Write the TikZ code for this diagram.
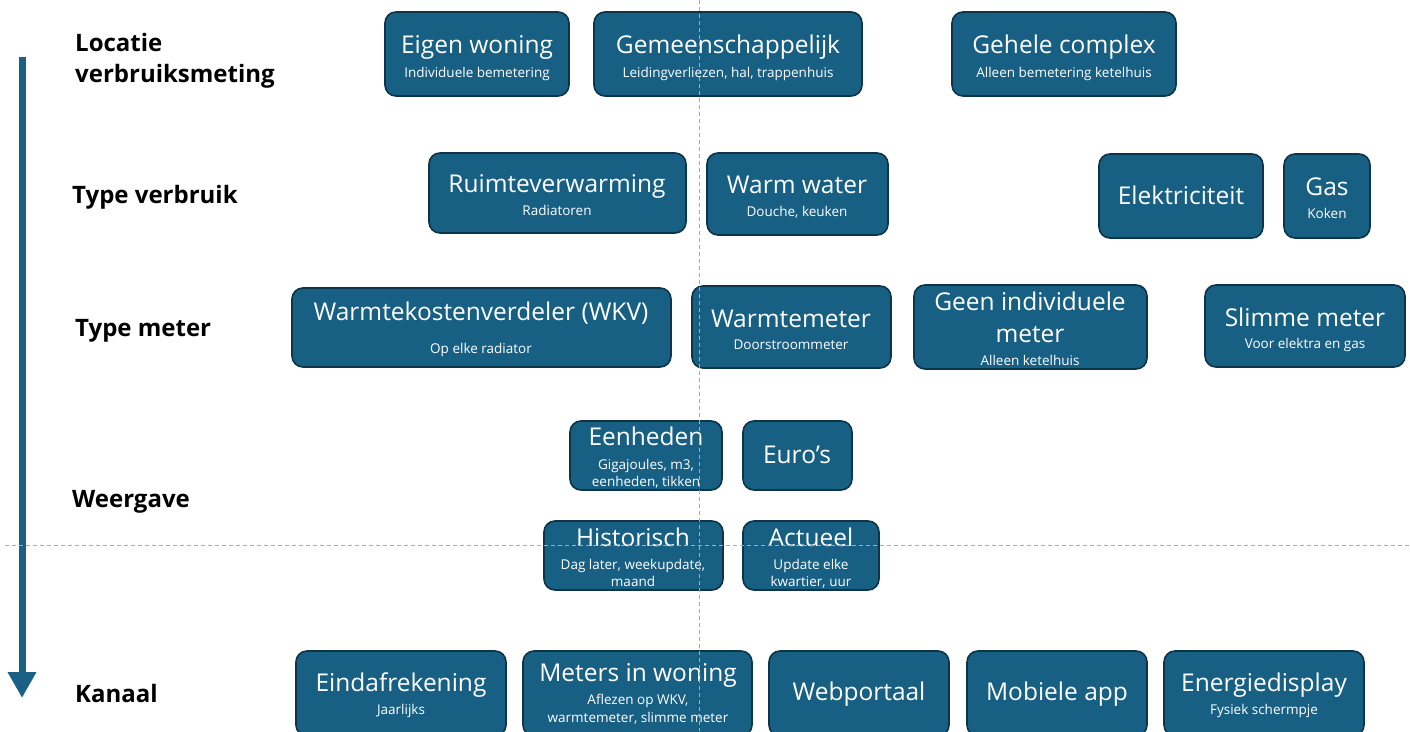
\documentclass[tikz,border=0pt]{standalone}
\usepackage{fontspec}
\setmainfont{Open Sans}
\usetikzlibrary{fit,arrows.meta}
\definecolor{boxfill}{RGB}{23,95,131}
\definecolor{boxline}{RGB}{14,52,72}
\definecolor{arrowc}{RGB}{26,97,133}
\definecolor{guide}{RGB}{170,170,170}
\begin{document}
\begin{tikzpicture}[x=1pt,y=-1pt,
  box/.style={draw=boxline, line width=1.6pt, fill=boxfill, rounded corners=11pt, inner sep=0pt},
  ttl/.style={text=white, anchor=mid, inner sep=0pt, yshift=-6pt, font=\fontsize{24.5}{28}\selectfont},
  sub/.style={text=white, anchor=mid, inner sep=0pt, yshift=-3pt, font=\fontsize{13.5}{16}\selectfont},
  lbl/.style={text=black, anchor=mid west, inner sep=0pt, yshift=-6pt, font=\bfseries\fontsize{24}{30}\selectfont},
  guideline/.style={draw=guide, line width=0.9pt, dash pattern=on 4pt off 3pt}]
\useasboundingbox (0,0) rectangle (1410,731);
\fill[white] (0,0) rectangle (1410,731);

% axis arrow
\coordinate (atop) at (22,57);
\coordinate (abot) at (22,698);
\draw[arrowc, line width=7pt, -{Triangle[width=27pt,length=26pt]}] (atop) -- (abot);

% row labels
\node[lbl] (l1a) at (75,43) {Locatie};
\node[lbl] (l1b) at (75,74) {verbruiksmeting};
\node[lbl] (l2) at (72,195) {Type verbruik};
\node[lbl] (l3) at (75,328) {Type meter};
\node[lbl] (l4) at (72,499) {Weergave};
\node[lbl] (l5) at (75,694) {Kanaal};

% row 1
\node[box, fit={(385,12) (569,96)}] (ew) {};
\node[ttl] (ew-t) at (477,45) {Eigen woning};
\node[sub] (ew-s) at (477,72) {Individuele bemetering};
\node[box, fit={(594,12) (862,96)}] (gm) {};
\node[ttl] (gm-t) at (728,45) {Gemeenschappelijk};
\node[sub] (gm-s) at (728,72) {Leidingverliezen, hal, trappenhuis};
\node[box, fit={(952,12) (1176,96)}] (gc) {};
\node[ttl] (gc-t) at (1064,45) {Gehele complex};
\node[sub] (gc-s) at (1064,72) {Alleen bemetering ketelhuis};

% row 2
\node[box, fit={(429,153) (686,233)}] (rv) {};
\node[ttl] (rv-t) at (557,184) {Ruimteverwarming};
\node[sub] (rv-s) at (557,210) {Radiatoren};
\node[box, fit={(707,153) (888,235)}] (ww) {};
\node[ttl] (ww-t) at (797,185) {Warm water};
\node[sub] (ww-s) at (797,211) {Douche, keuken};
\node[box, fit={(1099,154) (1263,238)}] (el) {};
\node[ttl] (el-t) at (1181,196) {Elektriciteit};
\node[box, fit={(1284,154) (1370,238)}] (gas) {};
\node[ttl] (gas-t) at (1327,187) {Gas};
\node[sub] (gas-s) at (1327,213) {Koken};

% row 3
\node[box, fit={(292,288) (671,367)}] (wkv) {};
\node[ttl] (wkv-t) at (481,312) {Warmtekostenverdeler (WKV)};
\node[sub] (wkv-s) at (481,348) {Op elke radiator};
\node[box, fit={(692,286) (891,368)}] (wm) {};
\node[ttl] (wm-t) at (791,319) {Warmtemeter};
\node[sub] (wm-s) at (791,344) {Doorstroommeter};
\node[box, fit={(914,285) (1147,369)}] (gi) {};
\node[ttl] (gi-t1) at (1030,302) {Geen individuele};
\node[ttl] (gi-t2) at (1030,334) {meter};
\node[sub] (gi-s) at (1030,360) {Alleen ketelhuis};
\node[box, fit={(1205,285) (1405,367)}] (sm) {};
\node[ttl] (sm-t) at (1305,318) {Slimme meter};
\node[sub] (sm-s) at (1305,343) {Voor elektra en gas};

% row 4
\node[box, fit={(570,421) (722,490)}] (eh) {};
\node[ttl] (eh-t) at (646,437) {Eenheden};
\node[sub] (eh-s1) at (646,464) {Gigajoules, m3,};
\node[sub] (eh-s2) at (646,481) {eenheden, tikken};
\node[box, fit={(743,421) (852,490)}] (eu) {};
\node[ttl] (eu-t) at (797,455) {Euro’s};
\node[box, fit={(544,521) (723,590)}] (hi) {};
\node[ttl] (hi-t) at (633,538) {Historisch};
\node[sub] (hi-s1) at (633,564) {Dag later, weekupdate,};
\node[sub] (hi-s2) at (633,581) {maand};
\node[box, fit={(743,521) (879,590)}] (ac) {};
\node[ttl] (ac-t) at (811,538) {Actueel};
\node[sub] (ac-s1) at (811,564) {Update elke};
\node[sub] (ac-s2) at (811,581) {kwartier, uur};

% row 5
\node[box, fit={(296,651) (506,736)}] (ea) {};
\node[ttl] (ea-t) at (401,683) {Eindafrekening};
\node[sub] (ea-s) at (401,709) {Jaarlijks};
\node[box, fit={(523,651) (752,736)}] (mw) {};
\node[ttl] (mw-t) at (638,673) {Meters in woning};
\node[sub] (mw-s1) at (638,699) {Aflezen op WKV,};
\node[sub] (mw-s2) at (638,717) {warmtemeter, slimme meter};
\node[box, fit={(769,651) (949,736)}] (wp) {};
\node[ttl] (wp-t) at (859,692) {Webportaal};
\node[box, fit={(967,651) (1147,736)}] (ma) {};
\node[ttl] (ma-t) at (1057,692) {Mobiele app};
\node[box, fit={(1164,651) (1364,736)}] (ed) {};
\node[ttl] (ed-t) at (1264,683) {Energiedisplay};
\node[sub] (ed-s) at (1264,709) {Fysiek schermpje};

% guides
\coordinate (gv1) at (699,0);
\coordinate (gv2) at (699,731);
\coordinate (gh1) at (5,545);
\coordinate (gh2) at (1410,545);
\draw[guideline] (gv1) -- (gv2);
\draw[guideline] (gh1) -- (gh2);
\end{tikzpicture}
\end{document}
